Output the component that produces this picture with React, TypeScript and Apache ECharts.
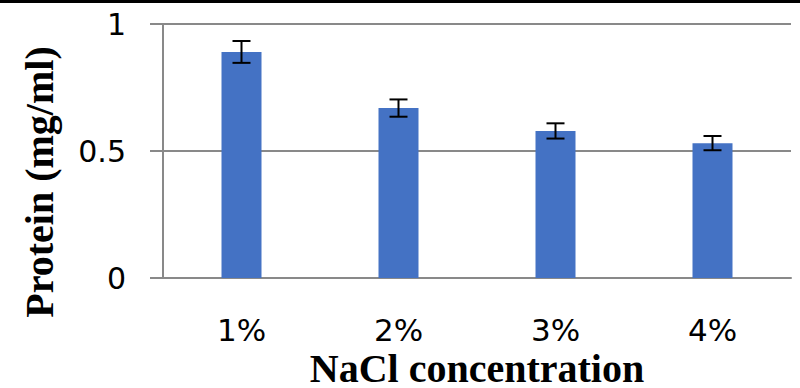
import React, { useEffect, useRef } from "react";
import * as echarts from "echarts";

const categories = ["1%", "2%", "3%", "4%"];
const proteinValues = [0.89, 0.669, 0.579, 0.531];
const errorValues = [0.043, 0.034, 0.03, 0.028];
const yTicks = { min: 0, max: 1, interval: 0.5 };

export default function App() {
  const ref = useRef<HTMLDivElement>(null);
  useEffect(() => {
    if (!ref.current) return;
    const chart = echarts.init(ref.current, null, { renderer: "svg" });
    const errData = proteinValues.map((v, i) => [i, v - errorValues[i], v + errorValues[i]]);
    chart.setOption({
      animation: false,
      backgroundColor: "#ffffff",
      grid: { left: 163, right: 9, top: 24, bottom: 110, containLabel: false, outerBoundsMode: "none" },
      graphic: [
        { type: "rect", left: 0, top: 0, shape: { x: 0, y: 0, width: 800, height: 3 }, style: { fill: "#000" } },
      ],
      xAxis: {
        type: "category",
        data: categories,
        name: "NaCl concentration",
        nameLocation: "middle",
        nameGap: 74,
        nameMoveOverlap: false,
        nameTextStyle: { fontFamily: "Liberation Serif", fontWeight: "bold", fontSize: 40, lineHeight: 32, color: "#000" },
        axisLine: { show: true, lineStyle: { color: "#898989", width: 2 } },
        axisTick: { show: false },
        axisLabel: { fontFamily: "DejaVu Sans", fontSize: 31, lineHeight: 31, color: "#000", margin: 36 },
        splitLine: { show: false },
      },
      yAxis: {
        type: "value",
        min: yTicks.min,
        max: yTicks.max,
        interval: yTicks.interval,
        name: "Protein (mg/ml)",
        nameLocation: "middle",
        nameRotate: 90,
        nameGap: 104,
        nameMoveOverlap: false,
        nameTextStyle: { fontFamily: "Liberation Serif", fontWeight: "bold", fontSize: 40, color: "#000", padding: [0, 62, 0, 0] },
        axisLine: { show: true, lineStyle: { color: "#898989", width: 2 } },
        axisTick: { show: true, length: 13, lineStyle: { color: "#898989", width: 2 } },
        axisLabel: { fontFamily: "DejaVu Sans", fontSize: 30, color: "#000", margin: 37 },
        splitLine: { show: true, lineStyle: { color: "#898989", width: 2 } },
      },
      series: [
        {
          type: "bar",
          data: proteinValues,
          barWidth: 40,
          itemStyle: { color: "#4472C4" },
        },
        {
          type: "custom",
          data: errData,
          z: 10,
          renderItem: (params: any, api: any) => {
            const x = api.value(0);
            const lo = api.coord([x, api.value(1)]);
            const hi = api.coord([x, api.value(2)]);
            const hw = 9;
            const style = { stroke: "#000", lineWidth: 2 };
            return {
              type: "group",
              children: [
                { type: "line", shape: { x1: hi[0], y1: hi[1], x2: lo[0], y2: lo[1] }, style },
                { type: "line", shape: { x1: hi[0] - hw, y1: hi[1], x2: hi[0] + hw, y2: hi[1] }, style },
                { type: "line", shape: { x1: lo[0] - hw, y1: lo[1], x2: lo[0] + hw, y2: lo[1] }, style },
              ],
            };
          },
        },
      ],
    });
    return () => chart.dispose();
  }, []);
  return <div ref={ref} style={{ position: "fixed", left: 0, top: 0, width: 800, height: 388 }} />;
}
